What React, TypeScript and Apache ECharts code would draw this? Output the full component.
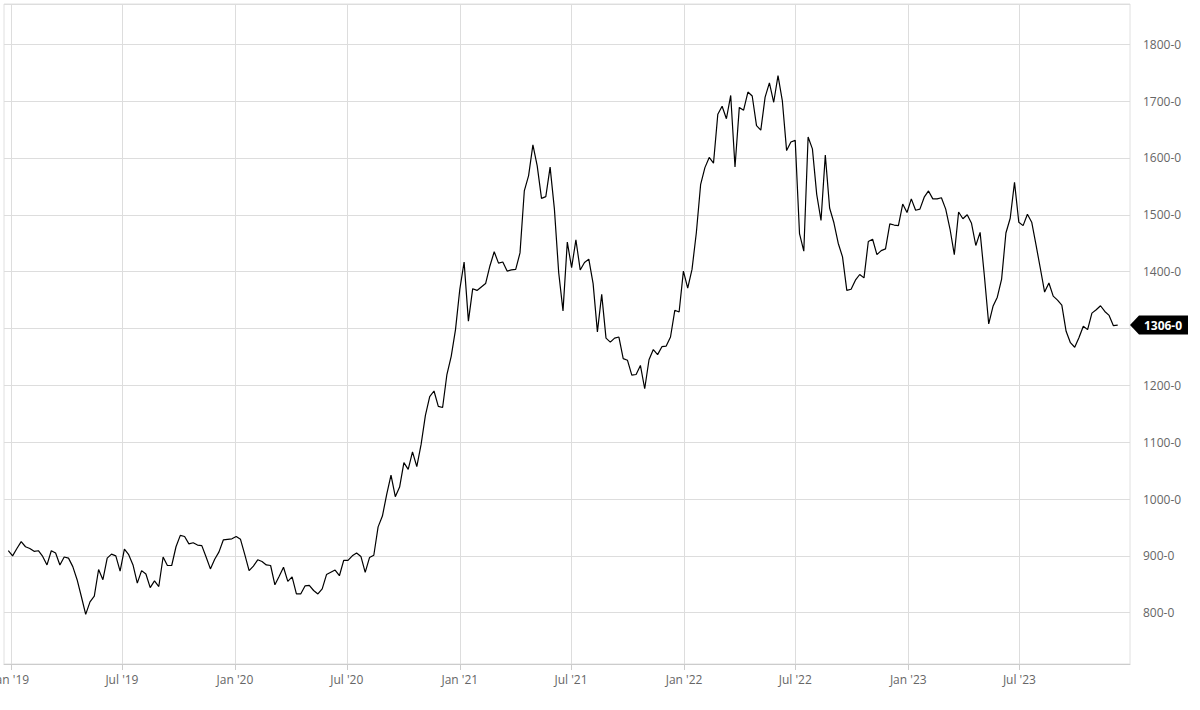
import { useEffect, useRef } from "react";
import * as echarts from "echarts";

// weekly closes, first week ending 2018-12-28
const firstWeek = "2018-12-28";
const weekly2019 = [
  909, 900, 913, 925, 916, 913, 908, 909, 899, 884,
  909, 905, 884, 898, 896, 881, 858, 828, 797, 819,
  829, 876, 858, 896, 903, 900, 873, 912, 902, 884,
  852, 874, 868, 844, 856, 846, 898, 883, 883, 916,
  936, 934, 921, 923, 919, 918, 898, 877, 894, 907,
  928, 929, 930,
];
const weekly2020 = [
  934, 929, 902, 874, 882, 893, 890, 884, 883,
  849, 864, 880, 855, 863, 833, 833, 847, 848, 839,
  833, 842, 867, 871, 875, 865, 892, 892, 900, 905,
  899, 871, 897, 901, 951, 970, 1008, 1042, 1004, 1021,
  1064, 1052, 1083, 1057, 1096, 1147, 1180, 1190, 1163, 1161,
  1219, 1251, 1298,
];
const weekly2021 = [
  1369, 1417, 1313, 1370, 1367,
  1373, 1379, 1410, 1435, 1415, 1417, 1401, 1403, 1404, 1433,
  1542, 1569, 1623, 1586, 1529, 1532, 1584, 1510, 1398, 1331,
  1452, 1407, 1456, 1403, 1416, 1422, 1379, 1294, 1360, 1283,
  1276, 1283, 1285, 1247, 1244, 1218, 1219, 1235, 1194, 1245,
  1263, 1254, 1268, 1269, 1285, 1332, 1329, 1401,
];
const weekly2022 = [
  1371, 1404,
  1468, 1553, 1583, 1601, 1591, 1677, 1691, 1669, 1710, 1584,
  1689, 1684, 1716, 1709, 1657, 1649, 1707, 1732, 1698, 1745,
  1701, 1613, 1628, 1631, 1467, 1436, 1637, 1616, 1536, 1490,
  1605, 1512, 1486, 1450, 1426, 1367, 1369, 1385, 1395, 1389,
  1453, 1457, 1430, 1437, 1440, 1484, 1482, 1481, 1519, 1504,
];
const weekly2023 = [
  1528, 1508, 1510, 1531, 1542, 1528, 1528, 1530, 1510, 1475,
  1430, 1505, 1493, 1500, 1485, 1446, 1469, 1392, 1308, 1339,
  1355, 1387, 1468, 1494, 1557, 1487, 1481, 1501, 1487, 1447,
  1406, 1364, 1380, 1357, 1350, 1341, 1295, 1275, 1267, 1284,
  1304, 1298, 1327, 1333, 1340, 1330, 1323, 1305, 1306,
];

const xTickDates = [
  "2019-01-01", "2019-07-01", "2020-01-01", "2020-07-01", "2021-01-01",
  "2021-07-01", "2022-01-01", "2022-07-01", "2023-01-01", "2023-07-01",
];
const monthNames = ["Jan", "Feb", "Mar", "Apr", "May", "Jun", "Jul", "Aug", "Sep", "Oct", "Nov", "Dec"];
const xRange = ["2018-12-21", "2023-12-28"];
const yRange = [709.7, 1870.9];

const DAY = 86400000;
const utc = (s: string) => {
  const [y, m, d] = s.split("-").map(Number);
  return Date.UTC(y, m - 1, d);
};

export default function App() {
  const ref = useRef<HTMLDivElement>(null);
  useEffect(() => {
    if (!ref.current) return;
    const chart = echarts.init(ref.current, null, { renderer: "svg" });
    const values = [...weekly2019, ...weekly2020, ...weekly2021, ...weekly2022, ...weekly2023];
    const start = utc(firstWeek);
    const data = values.map((v, i) => [start + i * 7 * DAY, v]);
    const last = values[values.length - 1];
    const xMax = utc(xRange[1]);
    const ticks = xTickDates.map(utc);
    const fmtY = (v: number) => `${Math.round(v)}-0`;
    chart.setOption({
      animation: false,
      textStyle: { fontFamily: "Open Sans" },
      grid: {
        left: 4,
        right: 70,
        top: 4,
        bottom: 46,
        containLabel: false,
        outerBoundsMode: "none",
        show: true,
        borderColor: "#e0e0e0",
        borderWidth: 1,
      },
      xAxis: {
        type: "value",
        min: utc(xRange[0]),
        max: xMax,
        axisLine: { show: true, lineStyle: { color: "#cccccc" } },
        axisTick: {
          show: true,
          length: 6,
          lineStyle: { color: "#cccccc" },
          customValues: ticks,
        },
        axisLabel: {
          customValues: ticks,
          showMinLabel: true,
          color: "#666666",
          fontSize: 12,
          fontFamily: "Open Sans",
          margin: 9,
          formatter: (v: number) => {
            const d = new Date(v);
            return `${monthNames[d.getUTCMonth()]} '${String(d.getUTCFullYear()).slice(2)}`;
          },
        },
        splitLine: { show: true, lineStyle: { color: "#dddddd", width: 1 } },
      },
      yAxis: {
        type: "value",
        position: "right",
        min: yRange[0],
        max: yRange[1],
        minInterval: 100,
        maxInterval: 100,
        axisLine: { show: false },
        axisTick: { show: false },
        axisLabel: {
          showMinLabel: false,
          showMaxLabel: false,
          color: "#666666",
          fontSize: 12,
          fontFamily: "Open Sans",
          margin: 13,
          // the last-price tag sits over the nearest grid label
          formatter: (v: number) =>
            Math.abs(v % 100) < 0.001 && Math.abs(v - last) > 30 ? fmtY(v) : "",
        },
        splitLine: { show: true, lineStyle: { color: "#dddddd", width: 1 } },
      },
      series: [
        {
          type: "line",
          data,
          showSymbol: false,
          symbol: "none",
          lineStyle: { color: "#000000", width: 1.2 },
          markPoint: {
            symbol: "path://M0,10 L9,0 L58,0 L58,20 L9,20 Z",
            symbolSize: [58, 19],
            symbolOffset: [29, 0],
            itemStyle: { color: "#000000" },
            label: {
              show: true,
              position: "inside",
              offset: [4, 0],
              color: "#ffffff",
              fontWeight: "bold",
              fontSize: 12,
              fontFamily: "Open Sans",
              formatter: (p: any) => fmtY(p.value),
            },
            data: [{ coord: [xMax, last], value: last }],
          },
        },
      ],
    });
    return () => chart.dispose();
  }, []);
  return (
    <div
      ref={ref}
      style={{ position: "absolute", left: 0, top: 0, width: 1200, height: 710 }}
    />
  );
}
